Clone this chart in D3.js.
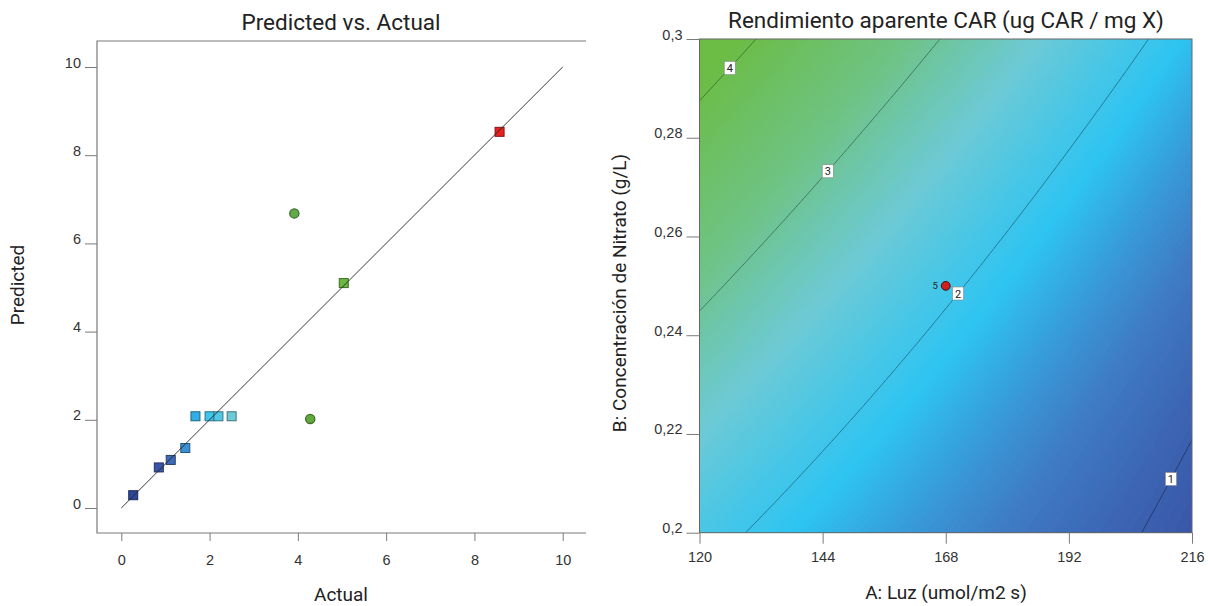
<!DOCTYPE html>
<html>
<head>
<meta charset="utf-8">
<script src="https://cdn.jsdelivr.net/npm/d3@7"></script>
<style>
  body { margin: 0; background: #fff; }
  svg { display: block; font-family: Roboto, "Noto Sans", sans-serif; }
</style>
</head>
<body>
<svg id="chart" width="1208" height="606"></svg>
<script>
// ---- data: Predicted vs. Actual ----
const actualValues    = [0.27, 0.85, 1.12, 1.45, 1.68, 2.0, 2.2, 2.5, 3.92, 4.28, 5.04, 8.57];
const predictedValues = [0.29, 0.92, 1.09, 1.36, 2.08, 2.08, 2.08, 2.08, 6.68, 2.02, 5.10, 8.53];
const pointShapes     = ["square", "square", "square", "square", "square", "square", "square", "square", "circle", "circle", "square", "square"];
const parityTicks = [0, 2, 4, 6, 8, 10];

// ---- data: contour plot ----
const luzTicks = [120, 144, 168, 192, 216];
const nitratoTicks = [0.2, 0.22, 0.24, 0.26, 0.28, 0.3];
// quadratic model in coded factors: Intercept, A, B, AB, A^2, B^2
const modelCoefs = [2.07, -0.94, 0.77, -0.32, 0.10, 0.13];
const contourLevels = [1, 2, 3, 4];
const contourLabelLuz = [211.9, 170.4, 145.0, 125.9];
const designPoints = [{ luz: 168, nitrato: 0.25, runs: 5 }];
// response values where the colour ramp changes hue
const colorStops = [0.27, 0.9, 1.3, 1.85, 2.5, 3.2, 4.1, 5.2, 7.0, 8.58];

const rampColors = ["#2d4898", "#3a56a8", "#3f7cc6", "#2ec4f2", "#6dcad6", "#6fc383", "#6cbd46", "#6cb83e", "#f2c41e", "#e4201e"];
const color = d3.scaleLinear().domain(colorStops).range(rampColors).interpolate(d3.interpolateRgb);

const svg = d3.select("#chart");
const axisGrey = "#7a7a7a";
const tickText = "#333";
const tickSize = 14.5;
const labelSize = 19;

// ================= left panel =================
const x = d3.scaleLinear().domain([0, 10]).range([121.3, 562.7]);
const y = d3.scaleLinear().domain([0, 10]).range([508, 67]);
const L = { left: 97, top: 41, bottom: 533, right: 586 };

const left = svg.append("g");

left.append("text")
  .attr("x", 341).attr("y", 30)
  .attr("text-anchor", "middle")
  .attr("font-size", 22.5).attr("fill", "#222")
  .text("Predicted vs. Actual");

// frame (left, top, bottom)
left.append("path")
  .attr("d", `M${L.right},${L.top}H${L.left}V${L.bottom}H${L.right}`)
  .attr("fill", "none").attr("stroke", axisGrey).attr("stroke-width", 1.2);

left.append("g")
  .attr("transform", `translate(${L.left},0)`)
  .call(d3.axisLeft(y).tickValues(parityTicks).tickSize(12).tickPadding(4))
  .call(g => g.select(".domain").remove())
  .call(g => g.selectAll("line").attr("stroke", axisGrey))
  .call(g => g.selectAll("text").attr("dy", "0").attr("font-size", tickSize).attr("fill", tickText).attr("font-family", null));

left.append("g")
  .attr("transform", `translate(0,${L.bottom})`)
  .call(d3.axisBottom(x).tickValues(parityTicks).tickSize(8).tickPadding(14))
  .call(g => g.select(".domain").remove())
  .call(g => g.selectAll("line").attr("stroke", axisGrey))
  .call(g => g.selectAll("text").attr("font-size", tickSize).attr("fill", tickText).attr("font-family", null));

left.append("text")
  .attr("x", 341).attr("y", 601)
  .attr("text-anchor", "middle").attr("font-size", labelSize).attr("fill", "#222")
  .text("Actual");

left.append("text")
  .attr("transform", "translate(24,285) rotate(-90)")
  .attr("text-anchor", "middle").attr("font-size", labelSize).attr("fill", "#222")
  .text("Predicted");

const pts = actualValues.map((a, i) => ({ a, p: predictedValues[i], shape: pointShapes[i] }));
const ptG = left.append("g");
pts.forEach(d => {
  const fill = color(d.a);
  const stroke = d3.color(fill).darker(1.5);
  if (d.shape === "circle") {
    ptG.append("circle")
      .attr("cx", x(d.a)).attr("cy", y(d.p)).attr("r", 4.6)
      .attr("fill", d3.color(fill).darker(0.3)).attr("stroke", stroke).attr("stroke-width", 1.3);
  } else {
    ptG.append("rect")
      .attr("x", x(d.a) - 4.5).attr("y", y(d.p) - 4.5)
      .attr("width", 9).attr("height", 9)
      .attr("fill", fill).attr("stroke", stroke).attr("stroke-width", 1);
  }
});

// 1:1 line
left.append("line")
  .attr("x1", x(0)).attr("y1", y(0)).attr("x2", x(10)).attr("y2", y(10))
  .attr("stroke", "#222").attr("stroke-width", 0.9);

// ================= right panel =================
const xA = d3.scaleLinear().domain([120, 216]).range([699.5, 1192]);
const yB = d3.scaleLinear().domain([0.2, 0.3]).range([532.7, 39]);

const coded = (luz, nit) => [(luz - 168) / 48, (nit - 0.25) / 0.05];
function model(luz, nit) {
  const [a, b] = coded(luz, nit);
  const c = modelCoefs;
  return c[0] + c[1] * a + c[2] * b + c[3] * a * b + c[4] * a * a + c[5] * b * b;
}

const right = svg.append("g");

right.append("text")
  .attr("x", 946).attr("y", 28)
  .attr("text-anchor", "middle").attr("font-size", 22.5).attr("fill", "#222")
  .text("Rendimiento aparente CAR (ug CAR / mg X)");

svg.append("defs").append("clipPath").attr("id", "plotClip")
  .append("rect")
  .attr("x", xA(120)).attr("y", yB(0.3))
  .attr("width", xA(216) - xA(120)).attr("height", yB(0.2) - yB(0.3));

// grid slightly larger than the plot, clipped to the frame
const nx = 200, ny = 200;
const luzLo = 118, luzHi = 218, nitLo = 0.198, nitHi = 0.302;
const luzAt = gx => luzLo + gx * (luzHi - luzLo) / nx;
const nitAt = gy => nitHi - gy * (nitHi - nitLo) / ny;
const grid = new Array(nx * ny);
for (let j = 0; j < ny; j++) {
  for (let i = 0; i < nx; i++) {
    grid[j * nx + i] = model(luzAt(i + 0.5), nitAt(j + 0.5));
  }
}
const gridPath = d3.geoPath(d3.geoTransform({
  point(px, py) { this.stream.point(xA(luzAt(px)), yB(nitAt(py))); }
}));

const field = right.append("g").attr("clip-path", "url(#plotClip)");
const step = 0.02;
const fillThresholds = d3.range(0.6, 4.8, step);
field.append("g")
  .selectAll("path")
  .data(d3.contours().size([nx, ny]).thresholds(fillThresholds)(grid))
  .join("path")
    .attr("d", gridPath)
    .attr("fill", d => color(d.value + step / 2))
    .attr("stroke", d => color(d.value + step / 2))
    .attr("stroke-width", 0.5);

field.append("g")
  .selectAll("path")
  .data(d3.contours().size([nx, ny]).thresholds(contourLevels)(grid))
  .join("path")
    .attr("d", gridPath)
    .attr("fill", "none")
    .attr("stroke", d => d3.color(color(d.value)).darker(1.4))
    .attr("stroke-width", 1);

// frame
right.append("rect")
  .attr("x", xA(120)).attr("y", yB(0.3))
  .attr("width", xA(216) - xA(120)).attr("height", yB(0.2) - yB(0.3))
  .attr("fill", "none").attr("stroke", "#666").attr("stroke-width", 1);

// contour labels, placed on their line
contourLevels.forEach((lev, i) => {
  const luz = contourLabelLuz[i];
  let lo = 0.2, hi = 0.3;
  const up = model(luz, hi) > model(luz, lo);
  for (let k = 0; k < 40; k++) {
    const mid = (lo + hi) / 2;
    if ((model(luz, mid) > lev) === up) hi = mid; else lo = mid;
  }
  const cx = xA(luz), cy = yB((lo + hi) / 2);
  const g = right.append("g").attr("transform", `translate(${cx},${cy})`);
  g.append("rect").attr("x", -5.5).attr("y", -6.5).attr("width", 11).attr("height", 13)
    .attr("fill", "#fff").attr("stroke", "#888").attr("stroke-width", 0.6);
  g.append("text").attr("text-anchor", "middle").attr("y", 4)
    .attr("font-size", 11).attr("fill", "#222").text(lev);
});

// design points
designPoints.forEach(d => {
  right.append("circle")
    .attr("cx", xA(d.luz)).attr("cy", yB(d.nitrato)).attr("r", 4.4)
    .attr("fill", "#d11f1f").attr("stroke", "#3a1010").attr("stroke-width", 1);
  right.append("text")
    .attr("x", xA(d.luz) - 8).attr("y", yB(d.nitrato) + 3.5)
    .attr("text-anchor", "end").attr("font-size", 9.5).attr("fill", "#222")
    .text(d.runs);
});

const fmtComma = v => d3.format("~g")(v).replace(".", ",");
right.append("g")
  .attr("transform", `translate(${xA(120)},0)`)
  .call(d3.axisLeft(yB).tickValues(nitratoTicks).tickSize(13).tickPadding(4))
  .call(g => g.select(".domain").remove())
  .call(g => g.selectAll("line").attr("stroke", axisGrey))
  .call(g => g.selectAll("text").text(fmtComma).attr("dy", "0").attr("font-size", tickSize).attr("fill", tickText).attr("font-family", null));

right.append("g")
  .attr("transform", `translate(0,${yB(0.2)})`)
  .call(d3.axisBottom(xA).tickValues(luzTicks).tickSize(11).tickPadding(8))
  .call(g => g.select(".domain").remove())
  .call(g => g.selectAll("line").attr("stroke", axisGrey))
  .call(g => g.selectAll("text").attr("font-size", tickSize).attr("fill", tickText).attr("font-family", null));

right.append("text")
  .attr("x", 946).attr("y", 599)
  .attr("text-anchor", "middle").attr("font-size", labelSize).attr("fill", "#222")
  .text("A: Luz (umol/m2 s)");

right.append("text")
  .attr("transform", "translate(626,293) rotate(-90)")
  .attr("text-anchor", "middle").attr("font-size", labelSize).attr("fill", "#222")
  .text("B: Concentración de Nitrato (g/L)");
</script>
</body>
</html>
